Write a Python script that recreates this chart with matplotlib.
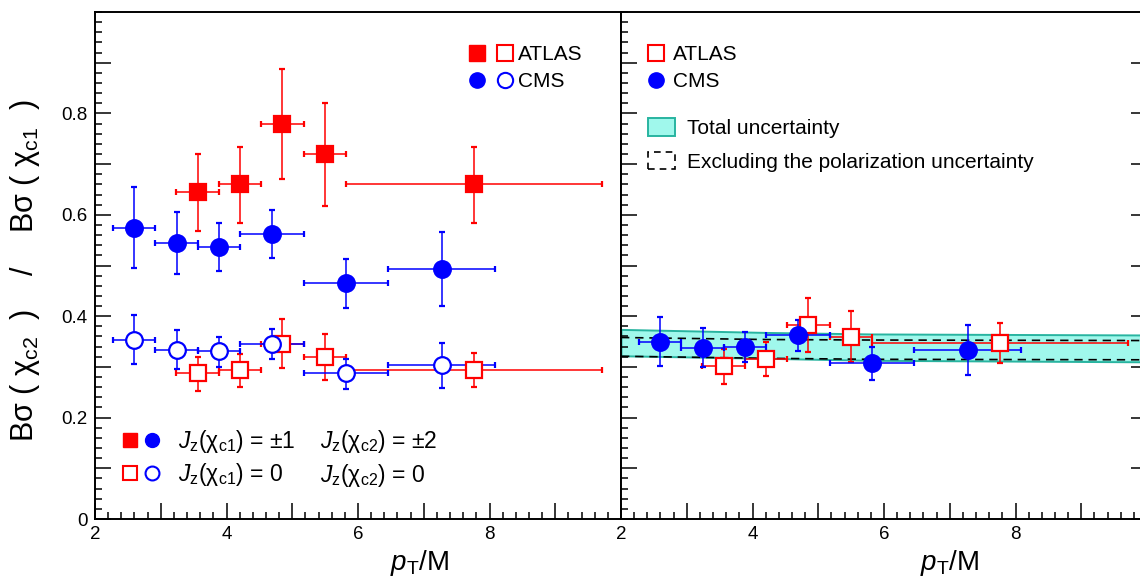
import matplotlib
matplotlib.use('Agg')
import matplotlib.pyplot as plt
import numpy as np
from matplotlib.lines import Line2D
from matplotlib.patches import Patch
from matplotlib.legend_handler import HandlerTuple
from matplotlib.ticker import MultipleLocator

plt.rcParams['font.family'] = ['Liberation Sans', 'DejaVu Sans']
plt.rcParams['mathtext.fontset'] = 'custom'
plt.rcParams['mathtext.rm'] = 'Liberation Sans'
plt.rcParams['mathtext.it'] = 'Liberation Sans:italic'
plt.rcParams['mathtext.bf'] = 'Liberation Sans:bold'

# ---------------- data ----------------
atlas_x = [3.56, 4.20, 4.85, 5.50, 7.76]
atlas_xlo = [3.23, 3.88, 4.53, 5.18, 5.82]
atlas_xhi = [3.88, 4.53, 5.18, 5.82, 9.71]
atlas_pm1 = [0.645, 0.660, 0.779, 0.720, 0.660]
atlas_pm1_lo = [0.569, 0.584, 0.671, 0.618, 0.584]
atlas_pm1_hi = [0.719, 0.734, 0.887, 0.820, 0.734]
atlas_0 = [0.287, 0.293, 0.346, 0.320, 0.293]
atlas_0_lo = [0.253, 0.260, 0.298, 0.275, 0.260]
atlas_0_hi = [0.319, 0.326, 0.394, 0.365, 0.327]

cms_x = [2.59, 3.24, 3.88, 4.69, 5.82, 7.27]
cms_xlo = [2.27, 2.92, 3.56, 4.21, 5.18, 6.46]
cms_xhi = [2.92, 3.56, 4.21, 5.18, 6.46, 8.09]
cms_pm1 = [0.574, 0.544, 0.536, 0.562, 0.466, 0.493]
cms_pm1_lo = [0.496, 0.483, 0.489, 0.514, 0.416, 0.420]
cms_pm1_hi = [0.654, 0.605, 0.584, 0.609, 0.513, 0.566]
cms_0 = [0.353, 0.334, 0.331, 0.346, 0.287, 0.303]
cms_0_lo = [0.305, 0.296, 0.300, 0.316, 0.256, 0.258]
cms_0_hi = [0.402, 0.372, 0.359, 0.375, 0.316, 0.348]

# right panel (combined)
atlas_c = [0.301, 0.316, 0.382, 0.359, 0.348]
atlas_c_lo = [0.266, 0.283, 0.329, 0.309, 0.308]
atlas_c_hi = [0.335, 0.349, 0.435, 0.410, 0.386]
cms_c = [0.349, 0.338, 0.339, 0.363, 0.307, 0.333]
cms_c_lo = [0.302, 0.299, 0.309, 0.331, 0.275, 0.284]
cms_c_hi = [0.399, 0.376, 0.369, 0.393, 0.339, 0.382]

band_x = [2.0, 4.2, 5.8, 10.0]
band_hi = [0.374, 0.368, 0.365, 0.363]
band_lo = [0.322, 0.317, 0.313, 0.310]
nopol_hi = [0.358, 0.354, 0.353, 0.352]
nopol_lo = [0.321, 0.317, 0.315, 0.314]

xtick_vals = [2, 3, 4, 5, 6, 7, 8, 9, 10]
xtick_labels = ['2', '', '4', '', '6', '', '8', '', '']
ytick_vals = [0, 0.1, 0.2, 0.3, 0.4, 0.5, 0.6, 0.7, 0.8, 0.9]
ytick_labels = ['0', '', '0.2', '', '0.4', '', '0.6', '', '0.8', '']

RED = '#ff0000'
BLUE = '#0000ff'

W, H = 1140, 586
fig = plt.figure(figsize=(W / 100, H / 100), dpi=100)
axL = fig.add_axes([95 / W, (H - 519) / H, 526 / W, 507 / H])
axR = fig.add_axes([621 / W, (H - 519) / H, 526 / W, 507 / H])


def errs(c, lo, hi):
    c = np.asarray(c); lo = np.asarray(lo); hi = np.asarray(hi)
    return [c - lo, hi - c]


def draw(ax, x, xlo, xhi, y, ylo, yhi, color, marker, filled, ms):
    ax.errorbar(x, y, xerr=errs(x, xlo, xhi), yerr=errs(y, ylo, yhi),
                fmt=marker, color=color, ecolor=color, elinewidth=1.1,
                capsize=2.4, capthick=1.1, markersize=ms,
                mfc=color if filled else 'white', mec=color, mew=1.6,
                zorder=4)


for ax in (axL, axR):
    ax.set_xlim(2, 10)
    ax.set_ylim(0, 1.0)
    ax.set_xticks(xtick_vals)
    ax.set_xticklabels(xtick_labels)
    ax.xaxis.set_minor_locator(MultipleLocator(0.2))
    ax.set_yticks(ytick_vals)
    ax.yaxis.set_minor_locator(MultipleLocator(0.02))
    ax.tick_params(axis='both', which='major', direction='in', length=11.5,
                   width=1.1, labelsize=13.5, colors='black')
    ax.tick_params(axis='both', which='minor', direction='in', length=5,
                   width=1.1)
    ax.tick_params(axis='x', which='both', top=False, pad=5)
    ax.tick_params(axis='y', pad=5.5)
    for s in ax.spines.values():
        s.set_linewidth(1.4)
    ax.set_xlabel(r'$p_{\mathrm{T}}$/M', fontsize=20)

axL.set_yticklabels(ytick_labels)
axL.tick_params(axis='y', which='both', left=True, right=False)
axR.tick_params(axis='y', which='both', left=True, right=True, labelleft=False)

axL.xaxis.set_label_coords(0.618, -0.058)
axR.xaxis.set_label_coords(0.625, -0.058)
axL.set_ylabel('Bσ ( χ$_{\\mathrm{c2}}$  )    /    Bσ ( χ$_{\\mathrm{c1}}$  )', fontsize=22)
axL.yaxis.set_label_coords(-0.1, 0.49)

# ---------------- left panel ----------------
draw(axL, atlas_x, atlas_xlo, atlas_xhi, atlas_pm1, atlas_pm1_lo, atlas_pm1_hi, RED, 's', True, 12)
draw(axL, cms_x, cms_xlo, cms_xhi, cms_pm1, cms_pm1_lo, cms_pm1_hi, BLUE, 'o', True, 12)
draw(axL, atlas_x, atlas_xlo, atlas_xhi, atlas_0, atlas_0_lo, atlas_0_hi, RED, 's', False, 12)
draw(axL, cms_x, cms_xlo, cms_xhi, cms_0, cms_0_lo, cms_0_hi, BLUE, 'o', False, 12)

h_af = Line2D([], [], marker='s', ls='none', color=RED, markersize=11)
h_ao = Line2D([], [], marker='s', ls='none', mec=RED, mfc='white', mew=1.5, markersize=11)
h_cf = Line2D([], [], marker='o', ls='none', color=BLUE, markersize=11)
h_co = Line2D([], [], marker='o', ls='none', mec=BLUE, mfc='white', mew=1.5, markersize=11)

legTL = axL.legend([(h_af, h_ao), (h_cf, h_co)], ['ATLAS', 'CMS'],
                   handler_map={tuple: HandlerTuple(ndivide=None, pad=0.38)},
                   loc='upper left', bbox_to_anchor=(0.707, 0.935),
                   frameon=False, fontsize=15, handlelength=2.31,
                   handletextpad=0.12, labelspacing=0.39, borderaxespad=0,
                   borderpad=0)
axL.add_artist(legTL)

h_af2 = Line2D([], [], marker='s', ls='none', color=RED, markersize=10)
h_ao2 = Line2D([], [], marker='s', ls='none', mec=RED, mfc='white', mew=1.5, markersize=10)
h_cf2 = Line2D([], [], marker='o', ls='none', color=BLUE, markersize=10)
h_co2 = Line2D([], [], marker='o', ls='none', mec=BLUE, mfc='white', mew=1.5, markersize=10)
lab_pm = r'$J_{\mathrm{z}}$(χ$_{\mathrm{c1}}$) = ±1'
lab_0 = r'$J_{\mathrm{z}}$(χ$_{\mathrm{c1}}$) = 0'
legBL = axL.legend([(h_af2, h_cf2), (h_ao2, h_co2)], [lab_pm, lab_0],
                   handler_map={tuple: HandlerTuple(ndivide=None, pad=0.29)},
                   loc='upper left', bbox_to_anchor=(0.051, 0.179),
                   frameon=False, fontsize=16.5, handlelength=1.66,
                   handletextpad=0.77, labelspacing=0.25, borderaxespad=0,
                   borderpad=0)
axL.text(0.428, 0.153, r'$J_{\mathrm{z}}$(χ$_{\mathrm{c2}}$) = ±2', transform=axL.transAxes,
         fontsize=16.5, va='center', ha='left')
axL.text(0.428, 0.086, r'$J_{\mathrm{z}}$(χ$_{\mathrm{c2}}$) = 0', transform=axL.transAxes,
         fontsize=16.5, va='center', ha='left')

# ---------------- right panel ----------------
axR.fill_between(band_x, band_lo, band_hi, facecolor='#a0f8ec', edgecolor='#28b4a0',
                 lw=1.4, zorder=1)
axR.plot(band_x, nopol_hi, color='black', ls=(0, (5, 3.5)), lw=1.2, zorder=2)
axR.plot(band_x, nopol_lo, color='black', ls=(0, (5, 3.5)), lw=1.2, zorder=2)
draw(axR, atlas_x, atlas_xlo, atlas_xhi, atlas_c, atlas_c_lo, atlas_c_hi, RED, 's', False, 12)
draw(axR, cms_x, cms_xlo, cms_xhi, cms_c, cms_c_lo, cms_c_hi, BLUE, 'o', True, 12)

legR1 = axR.legend([h_ao, h_cf], ['ATLAS', 'CMS'], loc='upper left',
                   bbox_to_anchor=(0.0475, 0.935), frameon=False, fontsize=15,
                   handlelength=0.96, handletextpad=0.34, labelspacing=0.39,
                   borderaxespad=0, borderpad=0)
axR.add_artist(legR1)
p_tot = Patch(facecolor='#a0f8ec', edgecolor='#28b4a0', lw=1.4)
p_nop = Patch(facecolor='none', edgecolor='black', lw=1.2, ls=(0, (4, 3)))
legR2 = axR.legend([p_tot, p_nop], ['Total uncertainty', 'Excluding the polarization uncertainty'],
                   loc='upper left', bbox_to_anchor=(0.051, 0.79), frameon=False,
                   fontsize=15, handlelength=1.3, handleheight=0.91,
                   handletextpad=0.58, labelspacing=0.64, borderaxespad=0,
                   borderpad=0)

fig.savefig('out.png', dpi=100)
